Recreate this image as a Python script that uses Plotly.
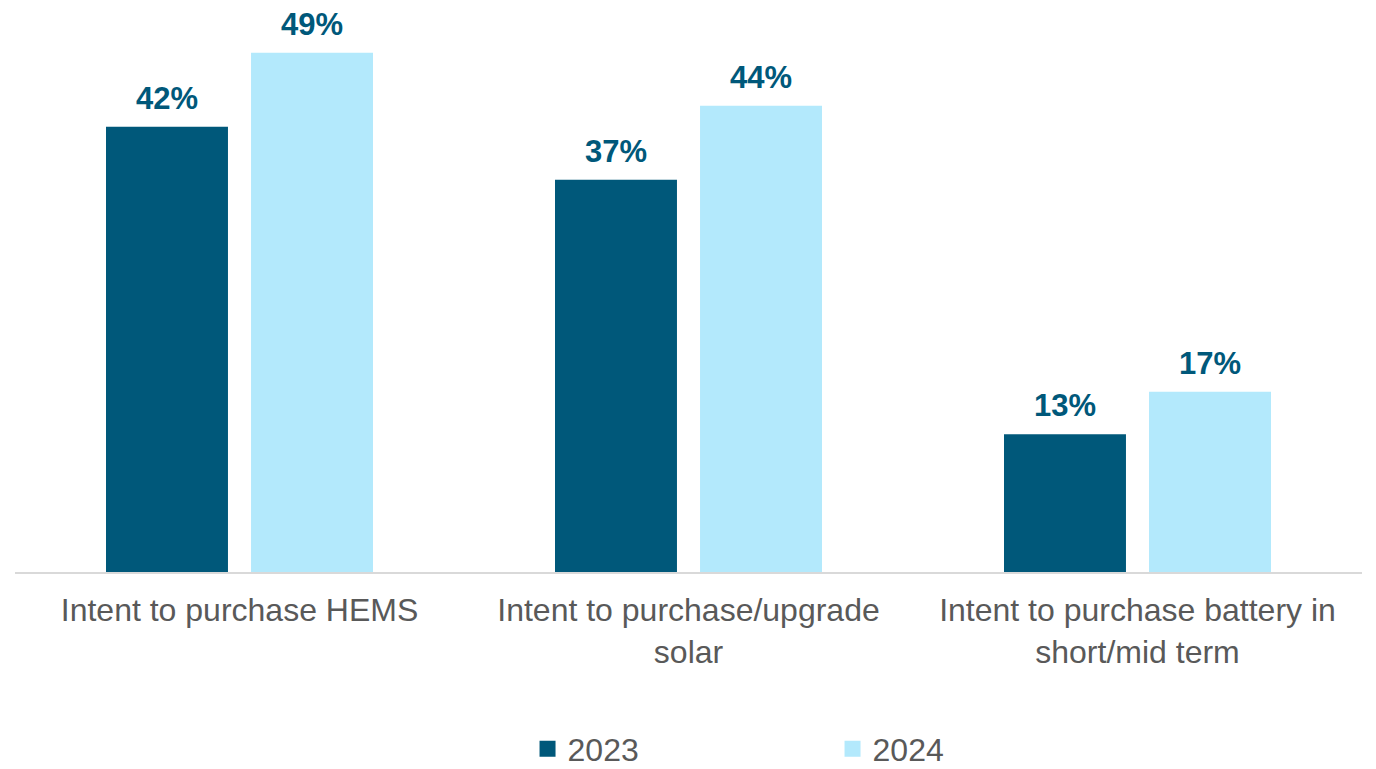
import plotly.graph_objects as go

categories = [
    "Intent to purchase HEMS",
    "Intent to purchase/upgrade<br>solar",
    "Intent to purchase battery in<br>short/mid term",
]
years = ["2023", "2024"]
values_2023 = [42, 37, 13]
values_2024 = [49, 44, 17]

dark = "#00587A"
light = "#B3E9FC"
font_family = "Arial, Liberation Sans, sans-serif"

fig = go.Figure()
series = [(years[0], values_2023, dark, -72.5), (years[1], values_2024, light, 72.5)]
for name, vals, color, offset in series:
    fig.add_trace(go.Bar(
        x=categories, y=vals, name=name,
        marker=dict(color=color, line=dict(width=0)),
        showlegend=False,
    ))
    # legend entry with a larger square swatch
    fig.add_trace(go.Scatter(
        x=[None], y=[None], mode="markers", name=name,
        marker=dict(symbol="square", size=16, color=color),
    ))
    # value labels above each bar
    for cat, v in zip(categories, vals):
        fig.add_annotation(
            x=cat, y=v, xref="x", yref="y", text=f"{v}%",
            showarrow=False, xshift=offset, yshift=9, yanchor="bottom",
            font=dict(family=font_family, size=31, color=dark, weight="bold"),
        )

fig.update_layout(
    width=1376, height=769,
    margin=dict(l=15, r=14, t=20, b=197),
    paper_bgcolor="white", plot_bgcolor="white",
    barmode="group", bargap=0.354, bargroupgap=0.159,
    font=dict(family=font_family, color="#595959"),
    legend=dict(
        orientation="h", xref="paper", x=0.3805, xanchor="left",
        yref="container", y=0.026, yanchor="middle",
        font=dict(size=32, color="#595959"),
        entrywidth=260, entrywidthmode="pixels",
        bgcolor="rgba(0,0,0,0)",
    ),
    xaxis=dict(
        showline=True, linecolor="#D9D9D9", linewidth=2,
        showgrid=False, ticks="", tickfont=dict(size=32, color="#595959"),
        ticklabelstandoff=9,
    ),
    yaxis=dict(range=[0, 52.08], visible=False, showgrid=False),
)

fig.write_html("out.html")
